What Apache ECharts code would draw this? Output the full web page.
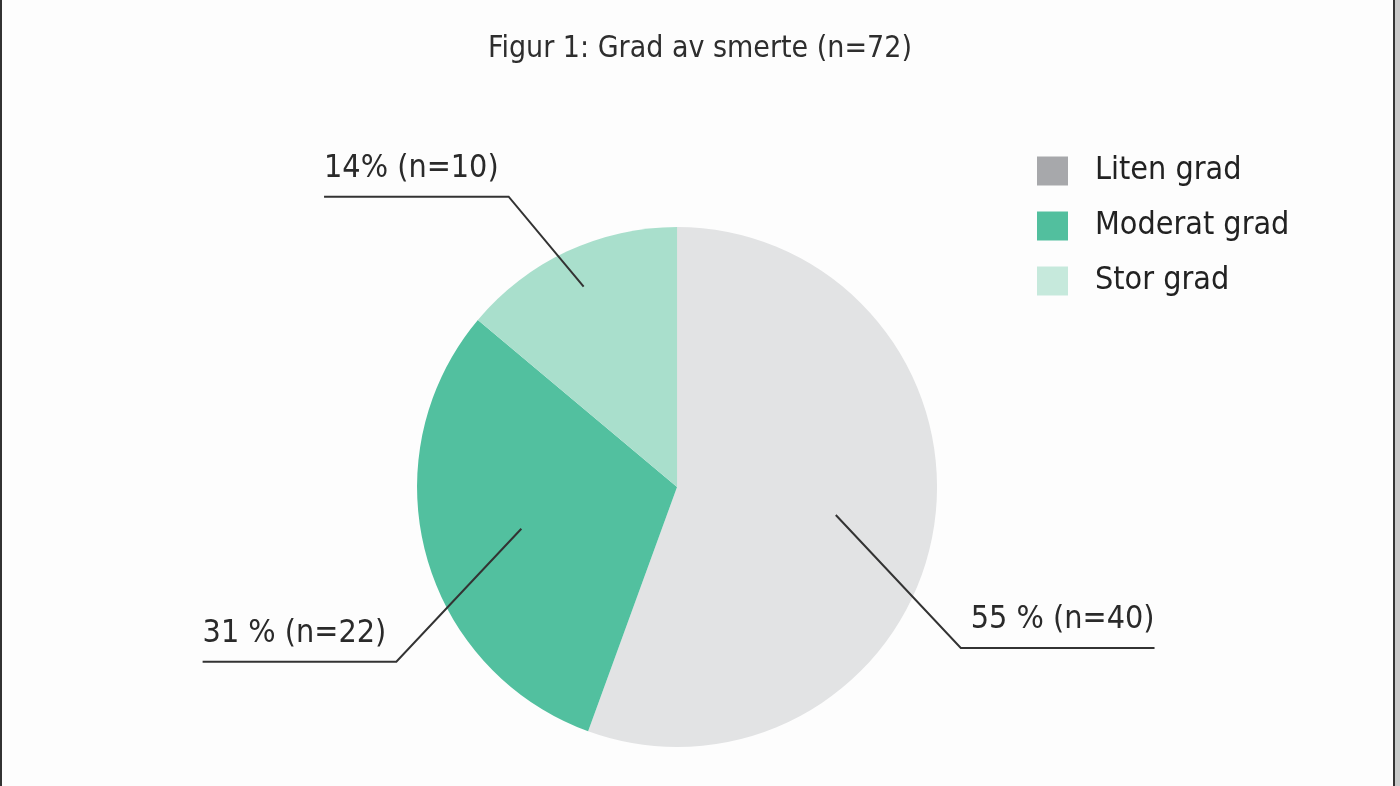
<!DOCTYPE html>
<html><head><meta charset="utf-8">
<script src="https://cdn.jsdelivr.net/npm/echarts@6/dist/echarts.min.js"></script>
<style>
html,body{margin:0;padding:0;background:#fdfdfd;}
#c{width:1400px;height:786px;}
#bl{position:absolute;left:0;top:0;width:2px;height:786px;background:#333;}
#br{position:absolute;left:1393px;top:0;width:2px;height:786px;background:#333;}
#br2{position:absolute;left:1395px;top:0;width:5px;height:786px;background:#c8c8c8;}
</style></head>
<body>
<div id="c"></div><div id="bl"></div><div id="br"></div><div id="br2"></div>
<script>
const titleText = 'Figur 1: Grad av smerte (n=72)';
const categories = ['Liten grad', 'Moderat grad', 'Stor grad'];
const counts = [40, 22, 10];
const labelTexts = ['55 % (n=40)', '31 % (n=22)', '14% (n=10)'];
const sliceColors = ['#e2e3e4', '#52c09f', '#a9dfcc'];
const legendColors = ['#a7a8ab', '#52bf9e', '#c6e9dc'];

const FONT = "'DejaVu Sans Condensed', sans-serif";
const chart = echarts.init(document.getElementById('c'));
const CX = 0.4836, CY = 0.6196, R = 260;

chart.setOption({
  backgroundColor: '#fdfdfd',
  title: {
    text: titleText, left: 'center', top: 29,
    textStyle: { fontFamily: FONT, fontSize: 30, fontWeight: 'normal', color: '#2e2e2e' }
  },
  legend: {
    orient: 'vertical', left: 1032, top: 150,
    itemWidth: 31, itemHeight: 29, itemGap: 23,
    icon: 'rect',
    textStyle: { fontFamily: FONT, fontSize: 32, color: '#222', padding: [0, 0, 0, 22] },
    data: categories.map((n, i) => ({ name: n, itemStyle: { color: legendColors[i] } }))
  },
  series: [{
    type: 'pie',
    center: [(CX * 100) + '%', (CY * 100) + '%'],
    radius: R,
    startAngle: 90,
    clockwise: true,
    silent: true,
    data: categories.map((n, i) => ({ name: n, value: counts[i], itemStyle: { color: sliceColors[i] } })),
    label: { show: false },
    labelLine: { show: false }
  }, {
    type: 'pie',
    z: 5,
    center: [(CX * 100) + '%', (CY * 100) + '%'],
    radius: R,
    startAngle: 90,
    clockwise: true,
    silent: true,
    data: categories.map((n, i) => ({ name: n, value: counts[i], itemStyle: { color: 'rgba(0,0,0,0)' } })),
    label: {
      show: true, position: 'outside',
      formatter: p => labelTexts[p.dataIndex],
      fontFamily: FONT, fontSize: 32, color: '#2a2a2a'
    },
    labelLine: { show: true, lineStyle: { color: '#333', width: 2 } },
    labelLayout: function (params) {
      const w = chart.getWidth(), h = chart.getHeight();
      const cx = w * CX, cy = h * CY;
      const E = params.labelLinePoints[0];
      let ux = E[0] - cx, uy = E[1] - cy;
      const len = Math.sqrt(ux * ux + uy * uy) || 1;
      ux /= len; uy /= len;
      const sx = ux >= 0 ? 1 : -1, sy = uy >= 0 ? 1 : -1;
      const k = sy > 0 ? 0.62 : 0.85;
      const dx = sy > 0 ? 125 : 75, dy = sy > 0 ? 133 : 90;
      const p0 = [cx + ux * R * k, cy + uy * R * k];
      const p1 = [p0[0] + sx * dx, p0[1] + sy * dy];
      const L = params.labelRect.width + 10;
      const p2 = [p1[0] + sx * L, p1[1]];
      return {
        x: p2[0], y: p1[1] - 12,
        align: sx > 0 ? 'right' : 'left',
        verticalAlign: 'bottom',
        labelLinePoints: [p0, p1, p2]
      };
    }
  }]
});
</script>
</body></html>
